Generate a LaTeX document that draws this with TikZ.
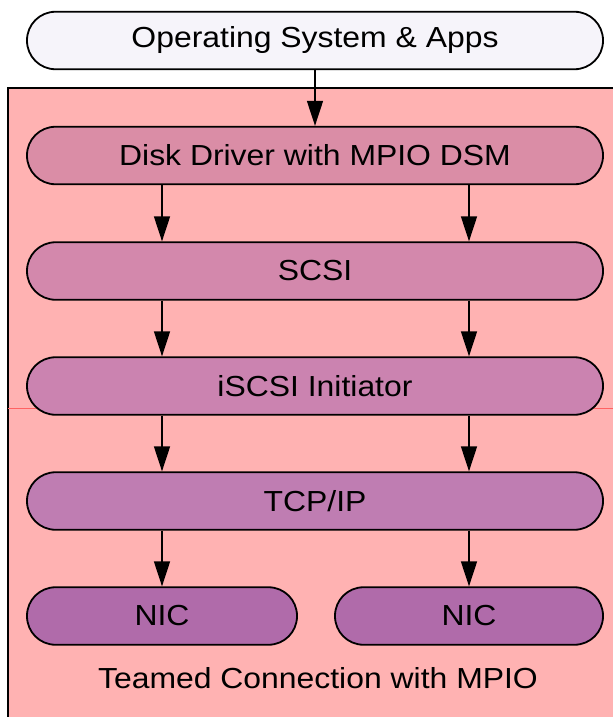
\documentclass[tikz,border=0pt]{standalone}
\usepackage{fontspec}
\setmainfont[FakeStretch=1.1]{Liberation Sans}
\usetikzlibrary{arrows.meta}
\definecolor{osfill}{RGB}{246,244,250}
\definecolor{teamfill}{RGB}{255,178,178}
\definecolor{diskfill}{RGB}{218,141,166}
\definecolor{scsifill}{RGB}{211,136,172}
\definecolor{iscsifill}{RGB}{203,131,176}
\definecolor{tcpfill}{RGB}{191,125,178}
\definecolor{nicfill}{RGB}{176,107,170}
\begin{document}
\begin{tikzpicture}[x=1pt,y=-1pt,
  label font/.style={font=\fontsize{29}{34}\selectfont},
  layer/.style={draw=black,line width=1.8pt,rounded corners=28.5pt,
    minimum height=57.5pt,inner sep=0pt,label font},
  wide/.style={layer,minimum width=576pt},
  half/.style={layer,minimum width=270pt},
  flow/.style={line width=1.4pt,-{Triangle[length=25pt,width=16pt]}}]
\useasboundingbox (0,0) rectangle (613,717);
% teamed-connection region (left and top border only)
\fill[teamfill] (8,88) rectangle (613,717);
\draw[line width=2pt] (8,717) -- (8,88) -- (613,88);
\draw[red!45!teamfill,line width=0.6pt] (8,408.5) -- (613,408.5);
% stack layers
\node[wide,fill=osfill]    (os)    at (315,40.5)  {Operating System \& Apps};
\node[wide,fill=diskfill]  (disk)  at (315,155.5) {Disk Driver with MPIO DSM};
\node[wide,fill=scsifill]  (scsi)  at (315,271)   {SCSI};
\node[wide,fill=iscsifill] (iscsi) at (315,386)   {iSCSI Initiator};
\node[wide,fill=tcpfill]   (tcp)   at (315,501)   {TCP/IP};
\node[half,fill=nicfill]   (nicA)  at (162,616)   {NIC};
\node[layer,fill=nicfill,minimum width=268pt] (nicB) at (469,616) {NIC};
\node[label font,inner sep=0pt] (team) at (318,678) {Teamed Connection with MPIO};
% data paths
\draw[flow] (os) -- (disk);
\foreach \a/\b in {disk/scsi,scsi/iscsi,iscsi/tcp}{
  \draw[flow] (\a.south -| nicA) -- (\b.north -| nicA);
  \draw[flow] (\a.south -| nicB) -- (\b.north -| nicB);
}
\draw[flow] (tcp.south -| nicA) -- (nicA);
\draw[flow] (tcp.south -| nicB) -- (nicB);
\end{tikzpicture}
\end{document}
